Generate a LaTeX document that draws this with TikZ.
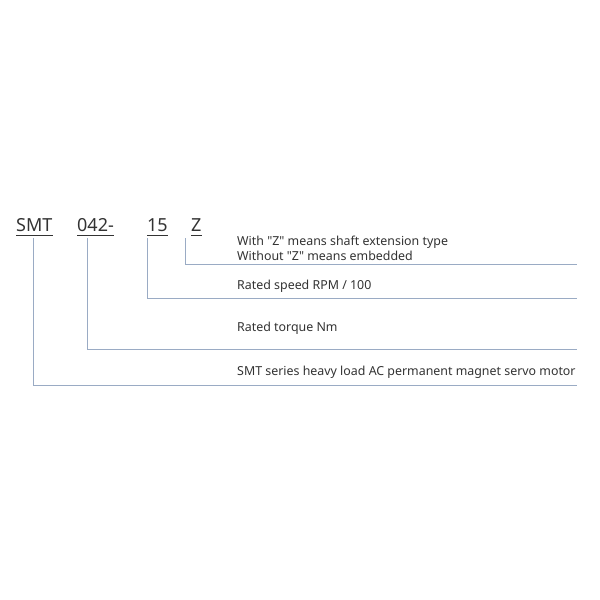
\documentclass[tikz,border=0pt]{standalone}
\usepackage{fontspec}
\setmainfont{Noto Sans}
\newfontfamily\notefont{Noto Sans}
\usetikzlibrary{positioning}
\definecolor{leadline}{HTML}{9AABC4}
\definecolor{inktext}{HTML}{333333}

\begin{document}
\begin{tikzpicture}[x=1pt,y=-1pt,
  code part/.style={anchor=base west,inner sep=0pt,text=inktext,font=\fontsize{18}{22}\selectfont},
  note/.style={anchor=base west,inner sep=0pt,text=inktext,font=\notefont\fontsize{12.4}{15}\selectfont}]

  \tikzstyle{lead} = [draw,leadline,line width=0.8pt]
  \tikzstyle{uline} = [draw,inktext,line width=0.9pt]

  \useasboundingbox (0,0) rectangle (600,600);

  % model code
  \node[code part] (smt) at (16,231) {SMT};
  \node[code part] (torque) at (77,231) {042-\hspace{11pt}};
  \node[code part] (speed) at (147,231) {15};
  \node[code part] (shaft) at (191,231) {Z};

  \foreach \part in {smt,torque,speed,shaft}
    \path[uline] ([yshift=-4pt]\part.base west) -- ([yshift=-4pt]\part.base east);

  % explanations
  \node[note] (shaftnote) at (237,245) {With "Z" means shaft extension type};
  \node[note] (shaftnote2) at (237,260) {Without "Z" means embedded};
  \node[note] (speednote) at (237,289) {Rated speed RPM / 100};
  \node[note] (torquenote) at (237,331) {Rated torque Nm};
  \node[note] (smtnote) at (237,375) {SMT series heavy load AC permanent magnet servo motor};

  \coordinate (shaft end) at (577,264);
  \coordinate (speed end) at (577,298);
  \coordinate (torque end) at (577,349);
  \coordinate (smt end) at (577,385);

  \path[lead] ([xshift=-6pt,yshift=-7pt]shaft.base west) |- (shaft end);
  \path[lead] ([yshift=-7pt]speed.base west) |- (speed end);
  \path[lead] ([xshift=10pt,yshift=-7pt]torque.base west) |- (torque end);
  \path[lead] ([xshift=17pt,yshift=-7pt]smt.base west) |- (smt end);
\end{tikzpicture}
\end{document}
